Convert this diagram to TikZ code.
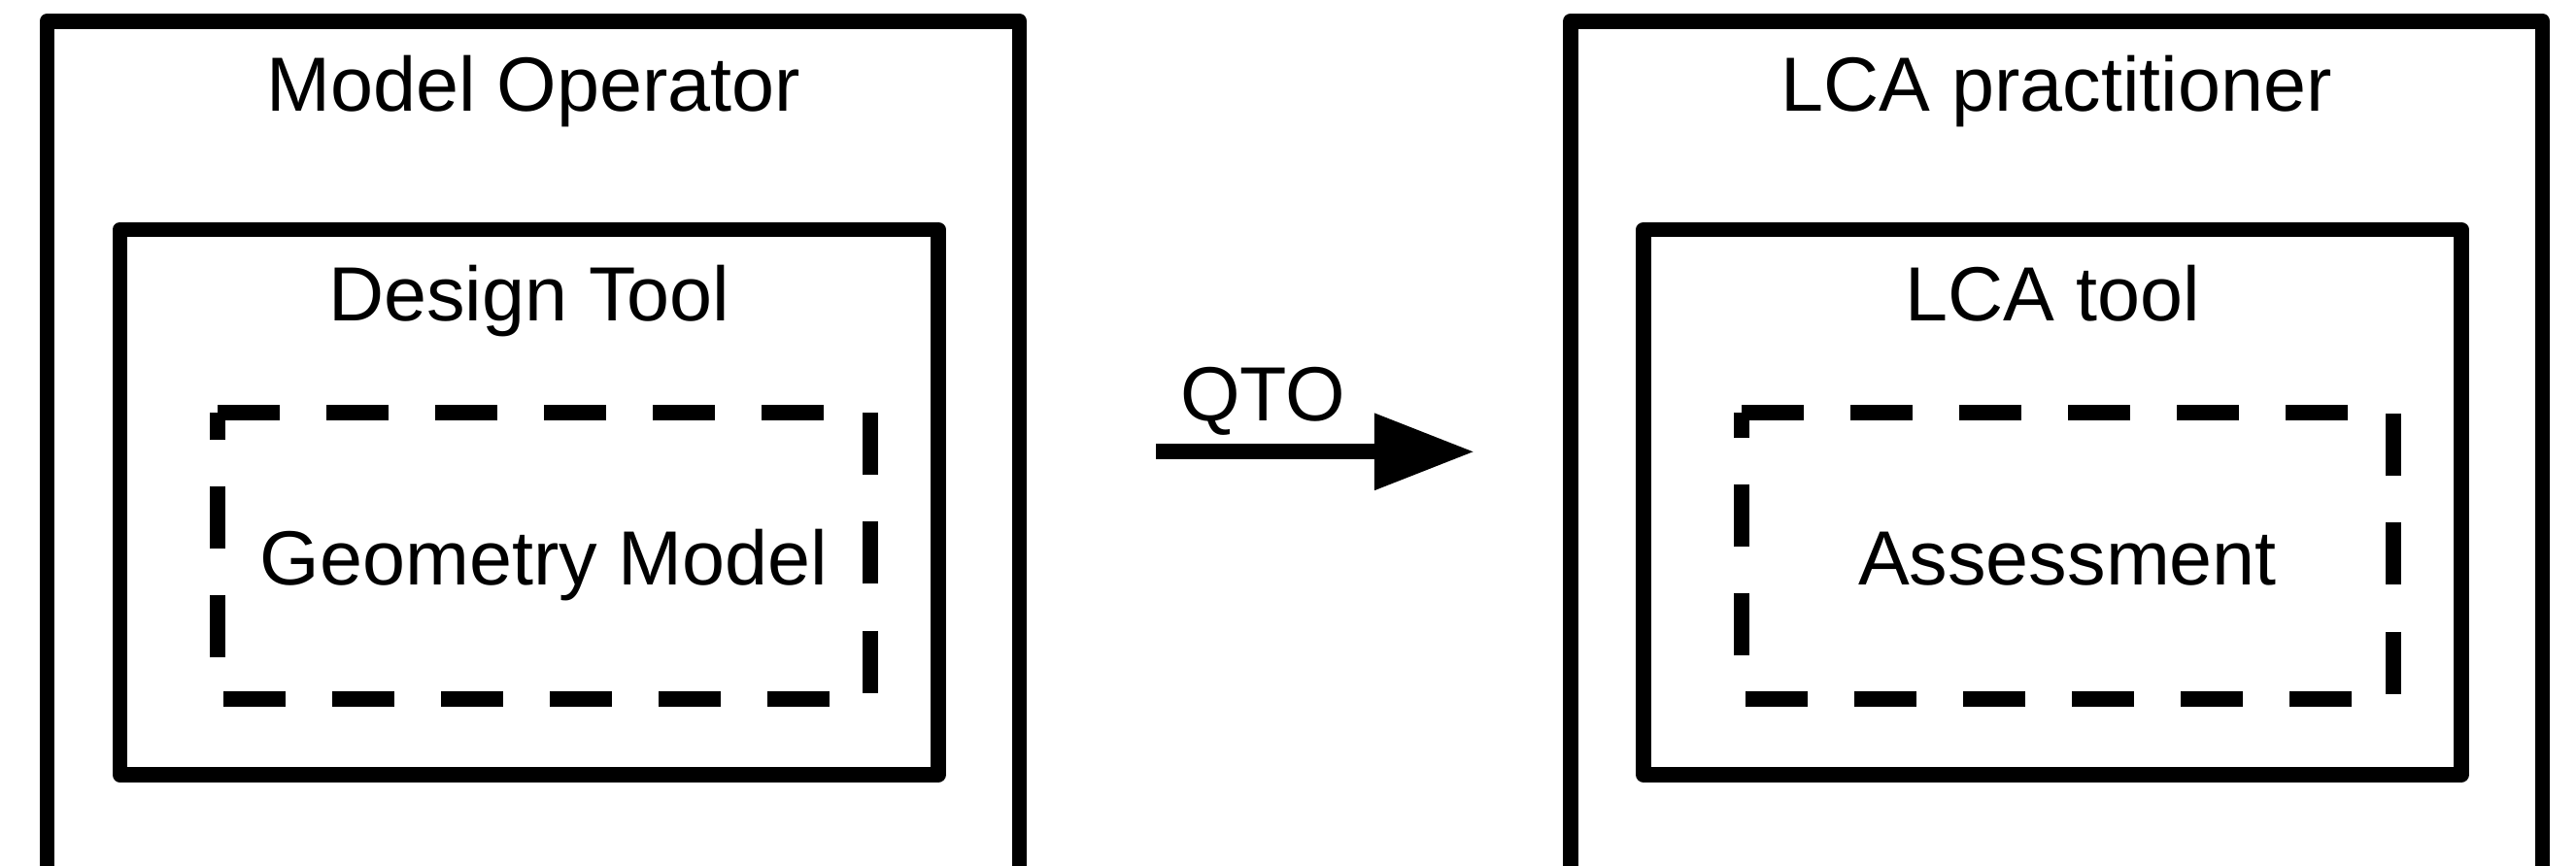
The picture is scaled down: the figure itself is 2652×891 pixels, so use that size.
\documentclass[tikz,border=0pt]{standalone}
\usepackage{fontspec}
\setmainfont{Liberation Sans}
\usetikzlibrary{positioning, arrows.meta}

\begin{document}
\begin{tikzpicture}[x=0.01cm, y=-0.01cm,
          box/.style={draw, line width=1.56mm, line join=round},
          dbox/.style={draw, line width=1.6mm, dash pattern=on 6.4mm off 4.8mm},
          lbl/.style={anchor=base, inner sep=0pt, font=\fontsize{22.5}{27}\selectfont},
          arr/.style={-{Triangle[length=10.3mm, width=7.5mm]}, line width=1.6mm}]
  \useasboundingbox (0,0) rectangle (2652,891);
  % left side
  \draw[box] (48.5,905) -- (48.5,21.7) -- (1049.5,21.7) -- (1049.5,905);
  \node[lbl] (mo) at (549,115) {Model Operator};
  \draw[box] (123.5,236.5) rectangle (966,798);
  \node[lbl] (dt) at (544.75,330) {Design Tool};
  \draw[dbox] (224,425) -- (896,425) -- (896,719.5) -- (224,719.5) -- cycle;
  \node[lbl] (gm) at (560,602) {Geometry Model};
  % right side
  \draw[box] (1617,905) -- (1617,21.7) -- (2617.5,21.7) -- (2617.5,905);
  \node[lbl] (lp) at (2117.25,115) {LCA practitioner};
  \draw[box] (1692,236.5) rectangle (2534,798);
  \node[lbl] (lt) at (2113,330) {LCA tool};
  \draw[dbox] (1793,425) -- (2464,425) -- (2464,719.5) -- (1793,719.5) -- cycle;
  \node[lbl] (as) at (2128.5,602) {Assessment};
  % QTO arrow
  \coordinate (qtoS) at (1190,465.3);
  \coordinate (qtoE) at (1518,465.3);
  \draw[arr] (qtoS) -- (qtoE);
  \node[lbl] (qto) at (1300,433) {QTO};
\end{tikzpicture}
\end{document}
